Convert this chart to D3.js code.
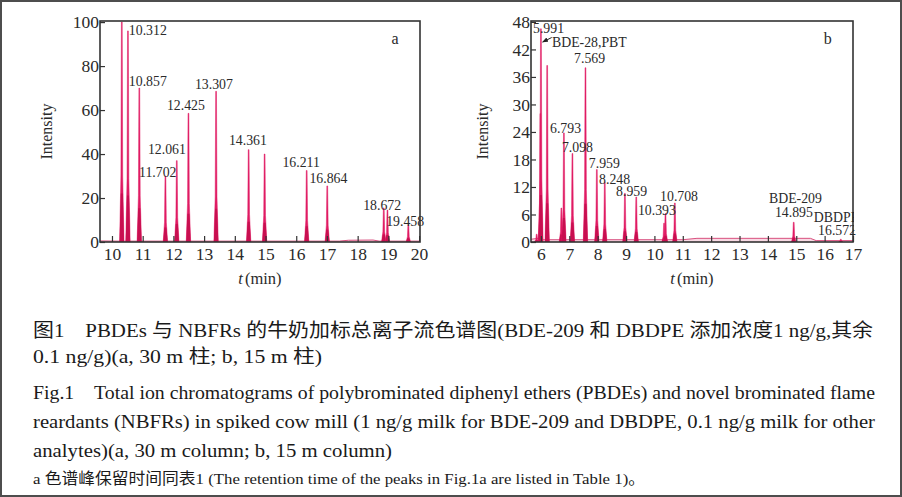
<!DOCTYPE html>
<html><head><meta charset="utf-8">
<script src="https://cdn.jsdelivr.net/npm/d3@7"></script>
<style>
html,body{margin:0;padding:0;background:#fff;}
svg{display:block;}
</style></head>
<body>
<svg id="c" width="902" height="497"></svg>
<script>
// ---------- DATA ----------
// Panel a : peak retention positions (min) and intensities
const peakTimesA  = [10.32, 10.52, 10.89, 11.74, 12.11, 12.49, 13.39, 14.45, 14.97, 16.34, 17.01, 18.85, 18.97, 19.65];
const peakHeightsA = [100, 96, 70, 30, 37, 58.5, 68.5, 42, 40, 32.5, 25.5, 15.5, 14.5, 8];
const baselineA_t = [9.6, 10.2, 17.4, 17.7, 18.5, 18.7, 20];
const baselineA_v = [0.5, 0.4, 0.4, 0.8, 0.9, 0.4, 0.4];
const labelsA     = ["10.312","10.857","12.061","11.702","12.425","13.307","14.361","16.211","16.864","18.672","19.458"];
const labelTA     = [10.55, 10.55, 11.17, 10.88, 11.79, 12.70, 13.81, 15.55, 16.43, 18.18, 18.93];
const labelVA     = [94, 71, 40, 29.5, 60, 69.5, 44, 34, 27, 14.5, 7.5];
const xTicksA = [10,11,12,13,14,15,16,17,18,19,20];
const yTicksA = [0,20,40,60,80,100];

// Panel b
const peakTimesB  = [5.85, 5.98, 6.00, 6.22, 6.72, 6.81, 7.11, 7.57, 7.97, 8.25, 8.96, 9.36, 10.34, 10.39, 10.72, 14.91, 16.57];
const peakHeightsB = [1.7, 28, 46.5, 38.5, 7.4, 23.8, 19.3, 38, 15.8, 13, 10.6, 9.8, 4.1, 6.2, 8.5, 4.3, 0.6];
const baselineB_t = [5.65, 5.9, 6.1, 11.0, 11.5, 15.5, 15.7, 17];
const baselineB_v = [0.6, 0.8, 0.5, 0.5, 0.8, 0.8, 0.3, 0.3];
const labelsB     = ["5.991","BDE-28,PBT","7.569","6.793","7.098","7.959","8.248","8.959","10.393","10.708","BDE-209","14.895","DBDPE","16.572"];
const labelTB     = [5.72, 6.39, 7.17, 6.32, 6.74, 7.69, 8.05, 8.65, 9.42, 10.20, 14.04, 14.25, 15.62, 15.77];
const labelVB     = [45.6, 42.6, 39.0, 23.8, 19.6, 16.1, 12.6, 10.0, 5.9, 8.9, 8.4, 5.45, 4.4, 1.5];
const xTicksB = [6,7,8,9,10,11,12,13,14,15,16,17];
const yTicksB = [0,6,12,18,24,30,36,42,48];

const captionLines = [
  "图1　PBDEs 与 NBFRs 的牛奶加标总离子流色谱图(BDE-209 和 DBDPE 添加浓度1 ng/g,其余",
  "0.1 ng/g)(a, 30 m 柱; b, 15 m 柱)",
  "Fig.1　Total ion chromatograms of polybrominated diphenyl ethers (PBDEs) and novel brominated flame",
  "reardants (NBFRs) in spiked cow mill (1 ng/g milk for BDE-209 and DBDPE, 0.1 ng/g milk for other",
  "analytes)(a, 30 m column; b, 15 m column)",
  "a 色谱峰保留时间同表1 (The retention time of the peaks in Fig.1a are listed in Table 1)。"
];

// ---------- DRAW ----------
const svg = d3.select("#c");
svg.append("rect").attr("x",1).attr("y",1).attr("width",900).attr("height",495)
   .attr("fill","#fff").attr("stroke","#4d4d4d").attr("stroke-width",2);

const serif = "Liberation Serif, Times New Roman, serif";
const PEAK = "#e01a63", PEAKDARK = "#c80f50", TXT = "#2a2a2a";

function panel(o){
  const g = svg.append("g");
  const x = d3.scaleLinear().domain(o.xDom).range([o.left, o.right]);
  const y = d3.scaleLinear().domain(o.yDom).range([o.bottom, o.top]);
  const clipId = "clip"+o.id;
  svg.append("clipPath").attr("id",clipId).append("rect")
     .attr("x",o.left).attr("y",o.top).attr("width",o.right-o.left).attr("height",o.bottom-o.top);
  const inner = g.append("g").attr("clip-path",`url(#${clipId})`);

  // baseline trace
  const bl = o.blT.map((t,i)=>[t,o.blV[i]]);
  inner.append("path").datum(bl)
    .attr("d", d3.area().x(d=>x(d[0])).y0(y(0)).y1(d=>y(d[1])))
    .attr("fill","#f3c2d2").attr("opacity",0.6);
  inner.append("path").datum(bl)
    .attr("d", d3.line().x(d=>x(d[0])).y(d=>y(d[1])))
    .attr("fill","none").attr("stroke","#d9507f").attr("stroke-width",1);

  // peaks
  o.pT.forEach((t,i)=>{
    const h = o.pH[i], cx = x(t), y0 = y(0), yt = y(h), yq = y(h*0.3);
    const pts = [[cx-2.2,y0],[cx-0.9,yq],[cx-0.4,yt],[cx+0.4,yt],[cx+0.9,yq],[cx+2.2,y0]];
    inner.append("path").attr("d", d3.line()(pts)+"Z")
      .attr("fill",PEAK).attr("stroke",PEAK).attr("stroke-width",0.5);
    const lo = [[cx-2.2,y0],[cx-1.0,y(h*0.22)],[cx+1.0,y(h*0.22)],[cx+2.2,y0]];
    inner.append("path").attr("d", d3.line()(lo)+"Z").attr("fill",PEAKDARK);
  });

  // frame
  g.append("rect").attr("x",o.left).attr("y",o.top).attr("width",o.right-o.left).attr("height",o.bottom-o.top)
    .attr("fill","none").attr("stroke","#333").attr("stroke-width",1.6);

  // axes (ticks inward)
  const xa = g.append("g").attr("transform",`translate(0,${o.bottom})`)
    .call(d3.axisBottom(x).tickValues(o.xTicks).tickSizeInner(-6).tickSizeOuter(0).tickPadding(8).tickFormat(d3.format("d")));
  const ya = g.append("g").attr("transform",`translate(${o.left},0)`)
    .call(d3.axisLeft(y).tickValues(o.yTicks).tickSizeInner(-5).tickSizeOuter(0).tickPadding(1).tickFormat(d3.format("d")));
  [xa,ya].forEach(a=>{
    a.attr("font-family",serif).attr("font-size",17.5);
    a.select(".domain").remove();
    a.selectAll("line").attr("stroke","#333").attr("stroke-width",1.2);
    a.selectAll("text").attr("fill",TXT);
  });
  xa.selectAll("text").attr("dy","0.55em");

  // labels
  o.labels.forEach((s,i)=>{
    g.append("text").attr("x",x(o.lT[i])).attr("y",y(o.lV[i]))
      .attr("font-family",serif).attr("font-size",13.8).attr("fill",TXT).text(s);
  });

  // axis titles
  g.append("text").attr("transform",`translate(${o.left-o.titleOff},${(o.top+o.bottom)/2}) rotate(-90)`)
    .attr("text-anchor","middle").attr("font-family",serif).attr("font-size",16).attr("fill",TXT).text("Intensity");
  const tl = g.append("text").attr("x",(o.left+o.right)/2).attr("y",o.bottom+42)
    .attr("text-anchor","middle").attr("font-family",serif).attr("font-size",16.5).attr("fill",TXT);
  tl.append("tspan").attr("font-style","italic").text("t");
  tl.append("tspan").attr("dx",2).text("(min)");

  g.append("text").attr("x",x(o.tagT)).attr("y",y(o.tagV))
    .attr("font-family",serif).attr("font-size",16).attr("fill",TXT).text(o.tag);
  return {g,x,y};
}

panel({id:"a", left:100, right:420, top:21, bottom:242, xDom:[9.61,20.03], yDom:[0,100.5], titleOff:48,
  pT:peakTimesA, pH:peakHeightsA, blT:baselineA_t, blV:baselineA_v,
  labels:labelsA, lT:labelTA, lV:labelVA, xTicks:xTicksA, yTicks:yTicksA, tag:"a", tagT:19.1, tagV:90});

const pb = panel({id:"b", left:531, right:853, top:21, bottom:242, xDom:[5.65,17.0], yDom:[0,48.2], titleOff:43,
  pT:peakTimesB, pH:peakHeightsB, blT:baselineB_t, blV:baselineB_v,
  labels:labelsB, lT:labelTB, lV:labelVB, xTicks:xTicksB, yTicks:yTicksB, tag:"b", tagT:15.97, tagV:43.2});

// arrow from "BDE-28,PBT" to the first peak
svg.append("defs").append("marker").attr("id","arr").attr("viewBox","0 0 10 10").attr("refX",9).attr("refY",5)
   .attr("markerWidth",6).attr("markerHeight",6).attr("orient","auto")
   .append("path").attr("d","M0,1L10,5L0,9Z").attr("fill","#222");
pb.g.append("line").attr("x1",pb.x(6.38)).attr("y1",pb.y(44.6)).attr("x2",pb.x(6.06)).attr("y2",pb.y(43.6))
   .attr("stroke","#222").attr("stroke-width",1).attr("marker-end","url(#arr)");
// white mask so DBDPE is cut at the frame like the original
svg.append("rect").attr("x",854).attr("y",200).attr("width",40).attr("height",30).attr("fill","#fff");

// caption
const capFont = "Liberation Serif, Noto Sans CJK SC, serif";
const capSpecs = [
  {y:337, w:840, fs:19},
  {y:363, w:289, fs:19},
  {y:399, w:842, fs:19},
  {y:428, w:842, fs:19},
  {y:457, w:359, fs:19},
  {y:484, w:612, fs:15.5}
];
captionLines.forEach((s,i)=>{
  svg.append("text").attr("x",33).attr("y",capSpecs[i].y)
    .attr("font-family",capFont).attr("font-size",capSpecs[i].fs).attr("fill","#1a1a1a")
    .attr("textLength",capSpecs[i].w).attr("lengthAdjust","spacingAndGlyphs").text(s);
});
</script>
</body></html>
